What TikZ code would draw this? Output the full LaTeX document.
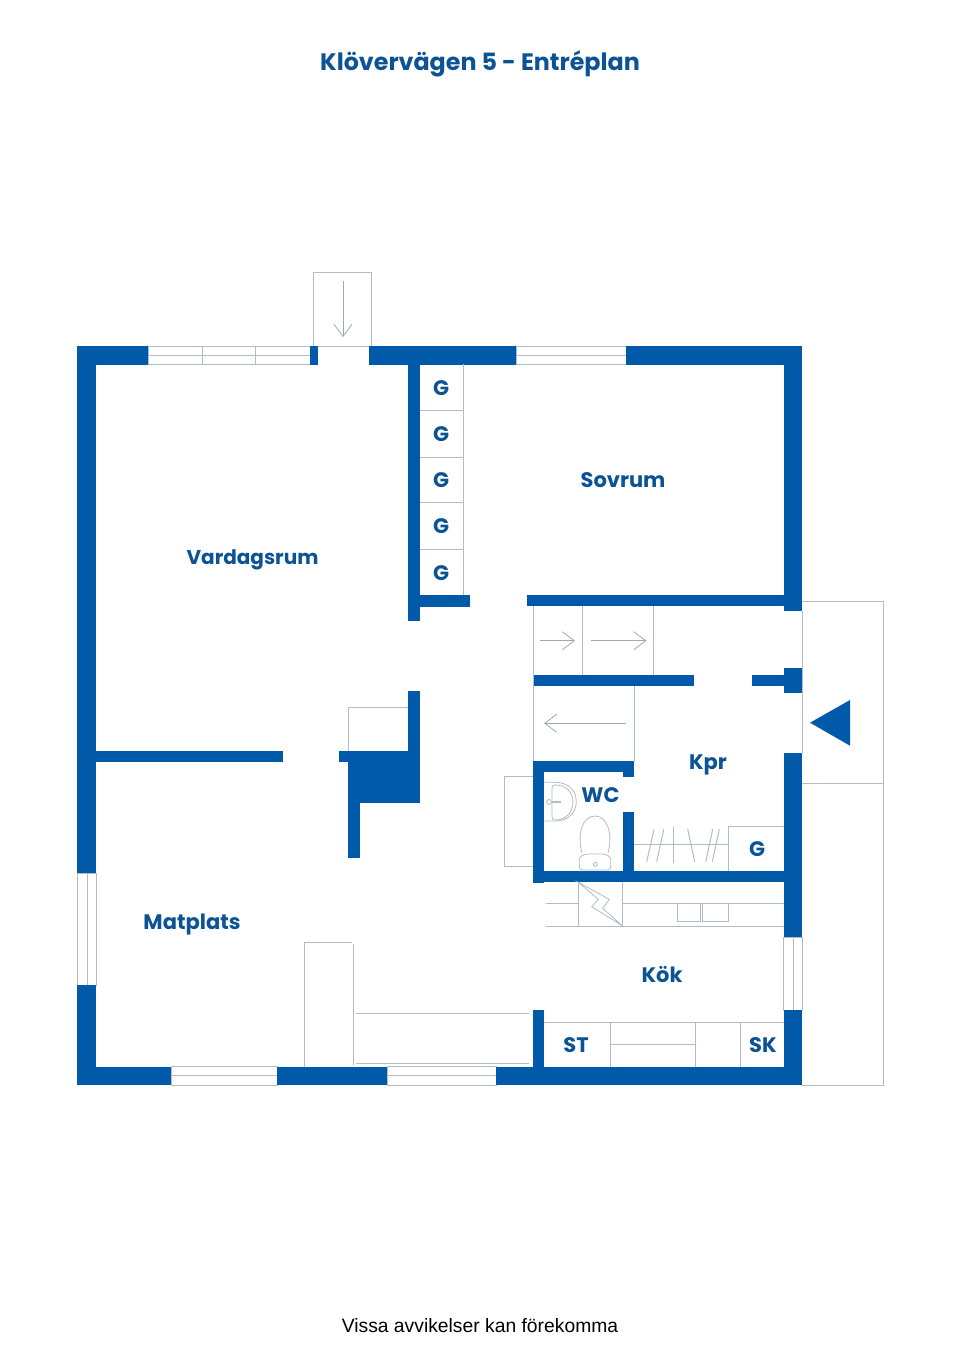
\documentclass[tikz,border=0pt]{standalone}
\usepackage{fontspec}
\setmainfont{Poppins}
\newfontfamily\footfont{Liberation Sans}
\usetikzlibrary{arrows.meta}
\definecolor{wallblue}{HTML}{005AA9}
\definecolor{textblue}{HTML}{0B5394}
\definecolor{fixline}{HTML}{B0BCC7}
\tikzset{
  wall/.style={fill=wallblue, draw=none},
  fixture/.style={draw=fixline, line width=1pt},
  move/.style={draw=fixline!90!black, line width=0.9pt, -{Straight Barb[length=12pt, width=18pt, line width=0.8pt]}},
  room/.style={text=textblue, font=\fontsize{21}{24}\selectfont\bfseries, inner sep=0pt},
}
\begin{document}
\begin{tikzpicture}[x=1pt, y=-1pt]
\useasboundingbox (0,0) rectangle (960,1358);
% texts
\node [text=textblue, font=\fontsize{23.8}{28}\selectfont\bfseries, inner sep=0pt] (title) at (480,64) {Klövervägen 5 - Entréplan};
\node [font=\fontsize{19.3}{24}\selectfont\footfont, inner sep=0pt] (foot) at (480,1325.5) {Vissa avvikelser kan förekomma};

% windows
\foreach \x in {202, 255.7}
  \draw [fixture] (\x,346) -- (\x,364.7);
\draw [fixture] (148.3,346) rectangle (310,364.7);
\draw [fixture] (148.3,355) -- (310,355);
\draw [fixture] (516,346) rectangle (626,364.7);
\draw [fixture] (516,355) -- (626,355);
\draw [fixture] (77.3,873) rectangle (96,985);
\draw [fixture] (87,873) -- (87,985);
\draw [fixture] (783.7,937.3) rectangle (802.3,1010);
\draw [fixture] (793.3,937.3) -- (793.3,1010);
\foreach \xa/\xb in {171/277, 387/496.3} {
  \draw [fixture] (\xa,1066.7) rectangle (\xb,1085);
  \draw [fixture] (\xa,1075.7) -- (\xb,1075.7);
}

% outer walls
\foreach \xa/\ya/\xb/\yb in {77.3/346/148.3/364.7, 310/346/318/364.7, 368.7/346/516/364.7, 626/346/802.3/364.7,
    77.3/346/96/873, 77.3/985/96/1085,
    77.3/1066.7/171/1085, 277/1066.7/387/1085, 496.3/1066.7/802.3/1085,
    783.7/346/802.3/610.7, 783.7/668.3/802.3/692.7, 783.7/753/802.3/937.3, 783.7/1010/802.3/1085}
  \fill [wall] (\xa,\ya) rectangle (\xb,\yb);

% inner walls
\foreach \xa/\ya/\xb/\yb in {408.3/364/419.7/620.7, 419/595.3/470/606.7, 526.7/595.3/784/606,
    533/675/694/686, 752/675/784/686,
    96/750.7/283.3/762, 339/750.7/349/762, 408.3/691/420/752, 348.3/751/420/803.3, 348.3/803/359.7/857.7,
    533/761/634.3/772.3, 533/761/544/883.3, 623.3/772/634.3/777, 623.3/811.7/634.3/871, 544/870.7/784/882,
    533/1010/544/1067}
  \fill [wall] (\xa,\ya) rectangle (\xb,\yb);

% entrance and terrace
\draw [fixture] (313.7,346) -- (313.7,272.7) -- (371.7,272.7) -- (371.7,346);
\draw [fixture] (318,346) -- (368.7,346);
\draw [move] (343,281) -- (343,337);
\draw [fixture] (802.3,601) -- (883.7,601) -- (883.7,1085) -- (802.3,1085);
\draw [fixture] (802.3,610.7) -- (802.3,753);
\draw [fixture] (802.3,783) -- (883.7,783);
\fill [wall] (810,722.7) -- (850,700) -- (850,745.7) -- cycle;

% wardrobes
\draw [fixture] (463.3,364) -- (463.3,595.3);
\foreach \y in {410.7, 457, 502.7, 549}
  \draw [fixture] (419.7,\y) -- (463.3,\y);
\foreach \y [count=\i] in {388, 434, 480.5, 526, 573}
  \node [room] (gar-\i) at (441,\y) {G};
\draw [fixture] (533,606) -- (533,761);
\draw [fixture] (582.3,606) -- (582.3,675);
\draw [fixture] (653.3,606) -- (653.3,675);
\draw [fixture] (634.3,686) -- (634.3,761);
\draw [move] (540,640.7) -- (575,640.7);
\draw [move] (590.7,640.7) -- (646.5,640.7);
\draw [move] (625.7,723.3) -- (544,723.3);

% hall rail
\draw [fixture] (634,844.7) -- (728.3,844.7);
\draw [fixture] (728.3,871) -- (728.3,826.7) -- (784,826.7);
\foreach \xa/\ya/\xb/\yb in {646.7/861.7/654/829.3, 656.7/861.7/663.7/829.3, 673.7/863.3/673.7/827.3,
    694.7/861.7/687.7/829.3, 705.7/861.7/712.7/829.3, 712.3/861.7/719.3/829.3}
  \draw [fixture] (\xa,\ya) -- (\xb,\yb);
\node [room] (gar-6) at (757,849) {G};

% wc
\draw [fixture] (533,776.7) -- (504.3,776.7) -- (504.3,866.3) -- (533,866.3);
\draw [fixture, line width=0.8pt] (544,782.3) -- (555,782.3) .. controls (569,782.3) and (576.3,791) .. (576.3,801.6) .. controls (576.3,812) and (569,821) .. (555,821) -- (544,821);
\draw [fixture, line width=0.8pt] (552,788) .. controls (552,786) and (553,785) .. (555,785) .. controls (566,785) and (573,792) .. (573,802) .. controls (573,812) and (566,820) .. (555,820) .. controls (553,820) and (552,819) .. (552,817) -- cycle;
\draw [fixture, line width=0.8pt] (549,802) circle [radius=2.5];
\draw [fixture, line width=1.3pt] (551.5,802) -- (561,802);
\draw [fixture, line width=0.8pt] (582,853) .. controls (577,835) and (582,816) .. (595,816) .. controls (608,816) and (613,835) .. (608,853);
\draw [fixture, line width=0.8pt, rounded corners=3pt] (579.3,857) -- (585,854) -- (605,854) -- (610.7,857) -- (610.7,870) -- (579.3,870) -- cycle;
\draw [fixture, line width=0.8pt] (595.3,864.3) circle [radius=2];
\node [room] (wc) at (600.5,795) {WC};

% kitchen
\draw [fixture] (545.7,903.3) -- (578.3,903.3);
\draw [fixture] (622.3,903.3) -- (784,903.3);
\draw [fixture] (545.7,926) -- (784,926);
\draw [fixture] (578.3,882) -- (578.3,926);
\draw [fixture] (622.3,882) -- (622.3,926);
\draw [fixture, line width=0.8pt] (578.3,882.3) -- (609.3,899.3) -- (602.7,908.3) -- (622.3,925.7) -- (591.7,906.7) -- (598.3,899.3) -- cycle;
\draw [fixture] (677.7,903.3) rectangle (700.3,921.7);
\draw [fixture] (702.7,903.3) rectangle (728.3,921.7);
\draw [fixture] (544,1022.3) -- (784,1022.3);
\foreach \x in {610, 695.7, 740}
  \draw [fixture] (\x,1022.3) -- (\x,1066.7);
\draw [fixture] (610,1044.3) -- (695.7,1044.3);
\node [room] (st) at (576,1045) {ST};
\node [room] (sk) at (763,1045) {SK};

% chimney and sofa
\draw [fixture] (348.3,751) -- (348.3,707.3) -- (408.3,707.3);
\draw [fixture] (304.3,1066.7) -- (304.3,942.7) -- (351.7,942.7);
\draw [fixture] (353.7,944.3) -- (353.7,1065);
\draw [fixture] (356,1013.7) -- (529,1013.7);
\draw [fixture] (356,1063.7) -- (529,1063.7);

% room names
\node [room, font=\fontsize{20}{24}\selectfont\bfseries] (vardagsrum) at (252.5,560) {Vardagsrum};
\node [room] (sovrum) at (623,480) {Sovrum};
\node [room] (matplats) at (192,924.5) {Matplats};
\node [room] (kpr) at (708,765) {Kpr};
\node [room] (kok) at (662,974.5) {Kök};
\end{tikzpicture}
\end{document}
